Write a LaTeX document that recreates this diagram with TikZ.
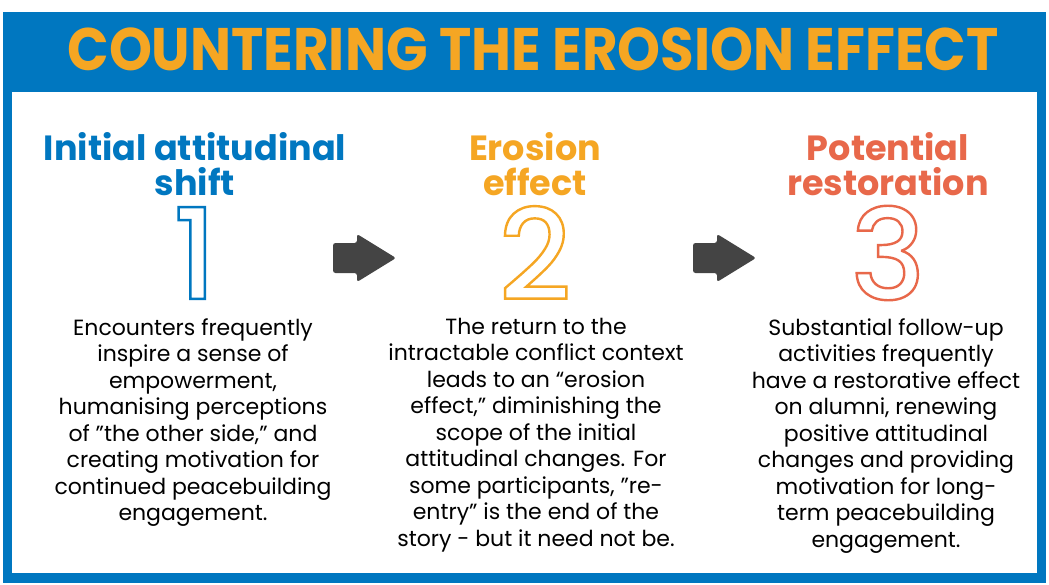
\documentclass[tikz,border=0pt]{standalone}
\usepackage{fontspec}
\usepackage{graphicx}
\setmainfont{Poppins}
\newfontfamily\digitfont{Poppins Medium}
\usetikzlibrary{positioning}

\definecolor{frameblue}{RGB}{0,119,192}
\definecolor{titleorange}{RGB}{245,166,35}
\definecolor{coral}{RGB}{232,104,74}
\definecolor{arrowgray}{RGB}{68,68,68}

% hollow digit: stroke the glyph outline only
\newcommand{\hollowdigit}[1]{\special{pdf:literal direct 1 Tr 2.4 w}#1\special{pdf:literal direct 0 Tr}}

\begin{document}
\begin{tikzpicture}[x=1pt, y=-1pt,
  headtext/.style={font=\fontsize{35}{35}\selectfont\bfseries, align=center, inner sep=0pt},
  bodytext/.style={font=\fontsize{22}{26.5}\selectfont, align=center, inner sep=0pt, text=black},
  bignum/.style={font=\digitfont\fontsize{126}{126}\selectfont, inner sep=0pt}]
  \useasboundingbox (0,0) rectangle (1049,584);

  % frame and title band
  \fill[frameblue] (3,12) rectangle (1046,583);
  \fill[white] (12,92) rectangle (1037,573);
  \node[font=\fontsize{60}{60}\selectfont\bfseries, text=titleorange, anchor=base, inner sep=0pt] (title) at (533,70)
    {\scalebox{0.91}[1]{COUNTERING THE EROSION EFFECT}};

  % headings
  \node[headtext, text=frameblue, anchor=south] (head1) at (195,196) {Initial attitudinal\\shift};
  \node[headtext, text=titleorange, anchor=south] (head2) at (535,196) {Erosion\\effect};
  \node[headtext, text=coral, anchor=south] (head3) at (888,196) {Potential\\restoration};

  % step arrows
  \foreach \ax in {333,693}
    \fill[arrowgray, rounded corners=2.5pt] (\ax,243) -- (\ax+24,243) -- (\ax+24,234) -- (\ax+63,258)
      -- (\ax+24,282) -- (\ax+24,273) -- (\ax,273) -- cycle;

  % descriptions
  \node[bodytext, anchor=north] (text1) at (193,318) {Encounters frequently\\inspire a sense of\\empowerment,\\humanising perceptions\\of "the other side," and\\creating motivation for\\continued peacebuilding\\engagement.};
  \node[bodytext, anchor=north] (text2) at (536,318) {The return to the\\intractable conflict context\\leads to an “erosion\\effect,” diminishing the\\scope of the initial\\attitudinal changes. For\\some participants, "re-\\entry" is the end of the\\story - but it need not be.};
  \node[bodytext, anchor=north] (text3) at (886,318) {Substantial follow-up\\activities frequently\\have a restorative effect\\on alumni, renewing\\positive attitudinal\\changes and providing\\motivation for long-\\term peacebuilding\\engagement.};

  % big hollow numbers
  \node[bignum, text=frameblue] (num1) at (195,253) {\hollowdigit{1}};
  \node[bignum, text=titleorange] (num2) at (535,253) {\hollowdigit{2}};
  \node[bignum, text=coral] (num3) at (888,253) {\hollowdigit{3}};
\end{tikzpicture}
\end{document}
